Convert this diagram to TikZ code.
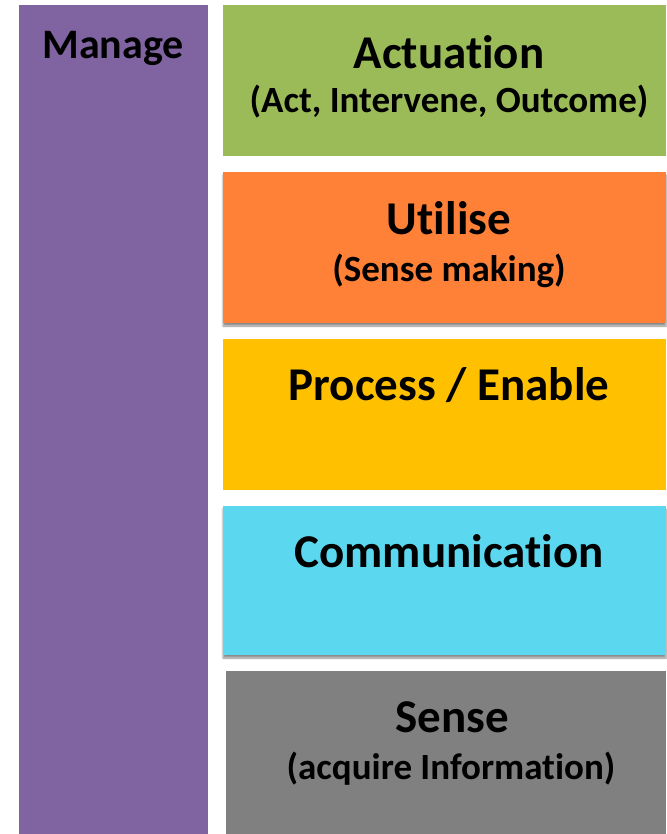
\documentclass[tikz,border=0pt]{standalone}
\usepackage{fontspec}
\setmainfont{Carlito}[Ligatures={NoCommon,NoContextual}]
\usetikzlibrary{shadows.blur}
\definecolor{cpurple}{RGB}{128,100,162}
\definecolor{cgreen}{RGB}{155,187,89}
\definecolor{corange}{RGB}{255,128,55}
\definecolor{cyellow}{RGB}{255,192,0}
\definecolor{ccyan}{RGB}{91,216,240}
\definecolor{cgray}{RGB}{128,128,128}
\tikzset{
  layer/.style={anchor=north west, inner sep=0pt, outer sep=0pt, draw=none, minimum width=#1},
  shade/.style={blur shadow={shadow xshift=0pt, shadow yshift=-3pt, shadow blur steps=6, shadow opacity=45}},
  ttl/.style={font=\bfseries\fontsize{47}{56}\selectfont, inner sep=0pt},
  sub/.style={font=\bfseries\fontsize{37}{44}\selectfont, inner sep=0pt},
}
\begin{document}
\begin{tikzpicture}[x=1pt,y=-1pt]
\useasboundingbox (0,0) rectangle (666,834);
\node[layer=189pt, minimum height=829pt, fill=cpurple] (manage) at (19,5) {};
\node[layer=443pt, minimum height=151pt, fill=cgreen] (act) at (223,5) {};
\node[layer=443pt, minimum height=151pt, fill=corange, shade] (util) at (223,172) {};
\node[layer=443pt, minimum height=151pt, fill=cyellow] (proc) at (223,339) {};
\node[layer=443pt, minimum height=149pt, fill=ccyan, shade] (comm) at (223,506) {};
\node[layer=440pt, minimum height=163pt, fill=cgray] (sense) at (226,671) {};

\node[font=\bfseries\fontsize{42}{50}\selectfont, inner sep=0pt] (tmanage) at (113,48) {Manage};
\node[ttl] (tact) at (449,52) {Actuation};
\node[sub] (sact) at (449,102) {(Act, Intervene, Outcome)};
\node[ttl] (tutil) at (449,218) {Utilise};
\node[sub] (sutil) at (449,271) {(Sense making)};
\node[ttl] (tproc) at (449,385) {Process / Enable};
\node[ttl] (tcomm) at (449,551) {Communication};
\node[ttl] (tsense) at (452,717) {Sense};
\node[sub] (ssense) at (451,769) {(acquire Information)};
\end{tikzpicture}
\end{document}
